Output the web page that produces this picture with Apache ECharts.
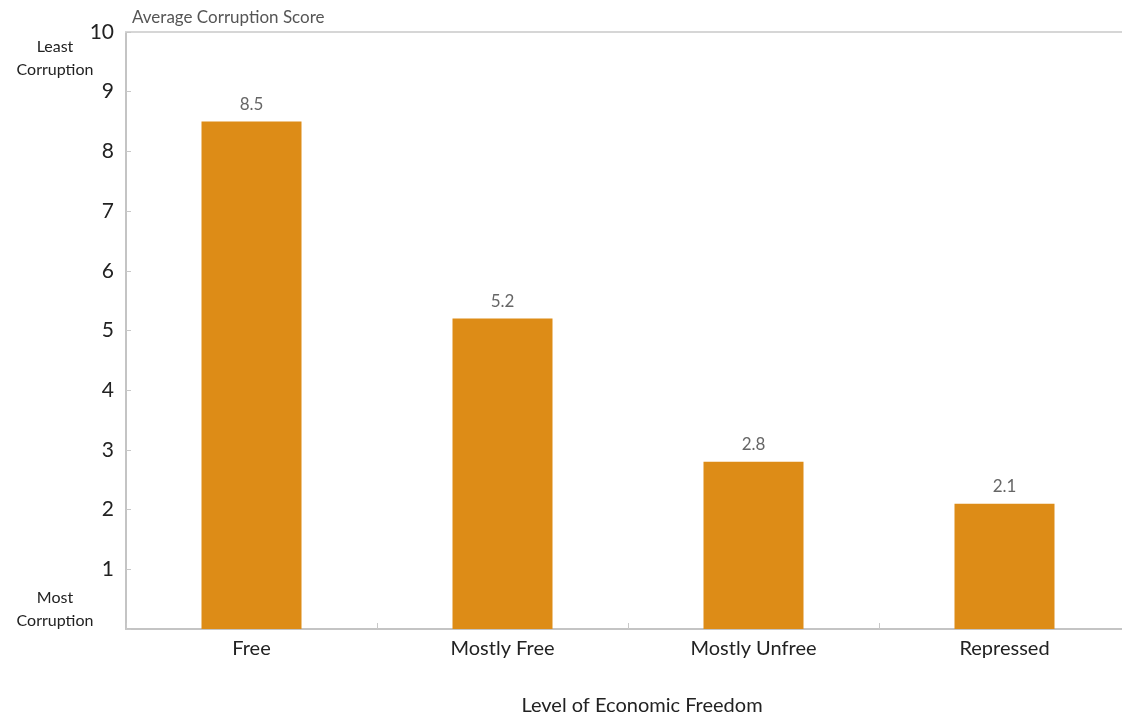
<!DOCTYPE html>
<html>
<head>
<meta charset="utf-8">
<script src="https://cdn.jsdelivr.net/npm/echarts@6/dist/echarts.min.js"></script>
<style>
html,body{margin:0;padding:0;background:#fff;overflow:hidden;width:1122px;height:721px;}
#chart{width:1134px;height:721px;}
</style>
</head>
<body>
<div id="chart"></div>
<script>
const categories = ["Free", "Mostly Free", "Mostly Unfree", "Repressed"];
const scores = [8.5, 5.2, 2.8, 2.1];
const yTitle = "Average Corruption Score";
const xTitle = "Level of Economic Freedom";
const topNote = ["Least", "Corruption"];
const bottomNote = ["Most", "Corruption"];

const FONT = "Lato, 'Open Sans', sans-serif";
const chart = echarts.init(document.getElementById('chart'));
chart.setOption({
  animation: false,
  backgroundColor: '#fff',
  grid: {left: 126, width: 1004, top: 32, bottom: 89, containLabel: false},
  xAxis: [{
    type: 'category',
    data: categories,
    position: 'bottom',
    axisLine: {show: true, lineStyle: {color: '#c4c4c4', width: 2}},
    axisTick: {show: true, inside: true, length: 6, alignWithLabel: false, lineStyle: {color: '#c8c8c8'}},
    axisLabel: {color: '#222', fontSize: 20, fontFamily: FONT, margin: 10},
    name: xTitle,
    nameLocation: 'middle',
    nameGap: 67,
    nameTextStyle: {color: '#222', fontSize: 20, fontFamily: FONT, padding: [0, 0, 0, 28]}
  }, {
    type: 'category',
    data: categories,
    position: 'top',
    axisLine: {show: true, lineStyle: {color: '#d6d6d6', width: 2}},
    axisTick: {show: false},
    axisLabel: {show: false}
  }],
  yAxis: {
    type: 'value',
    min: 0, max: 10, interval: 1,
    axisLine: {show: true, lineStyle: {color: '#c4c4c4', width: 2}},
    axisTick: {show: true, inside: true, length: 5, lineStyle: {color: '#c8c8c8'}},
    splitLine: {show: false},
    axisLabel: {
      color: '#222', fontSize: 21, fontFamily: FONT, margin: 12,
      formatter: v => v === 0 ? '' : String(v)
    },
    name: yTitle,
    nameLocation: 'end',
    nameGap: 6,
    nameTextStyle: {color: '#555', fontSize: 17, fontFamily: FONT, align: 'left', padding: [0, 0, 0, 6]}
  },
  series: [{
    type: 'bar',
    data: scores,
    barWidth: 100,
    itemStyle: {color: '#DD8C17'},
    label: {
      show: true, position: 'top', distance: 9,
      color: '#666', fontSize: 17, fontFamily: FONT,
      formatter: p => p.value.toFixed(1)
    }
  }],
  graphic: [
    {type: 'text', x: 55, y: 35, style: {text: topNote.join('\n'), fill: '#222', font: '16px ' + FONT, textAlign: 'center', lineHeight: 23}},
    {type: 'text', x: 55, y: 586, style: {text: bottomNote.join('\n'), fill: '#222', font: '16px ' + FONT, textAlign: 'center', lineHeight: 23}}
  ]
});
</script>
</body>
</html>
